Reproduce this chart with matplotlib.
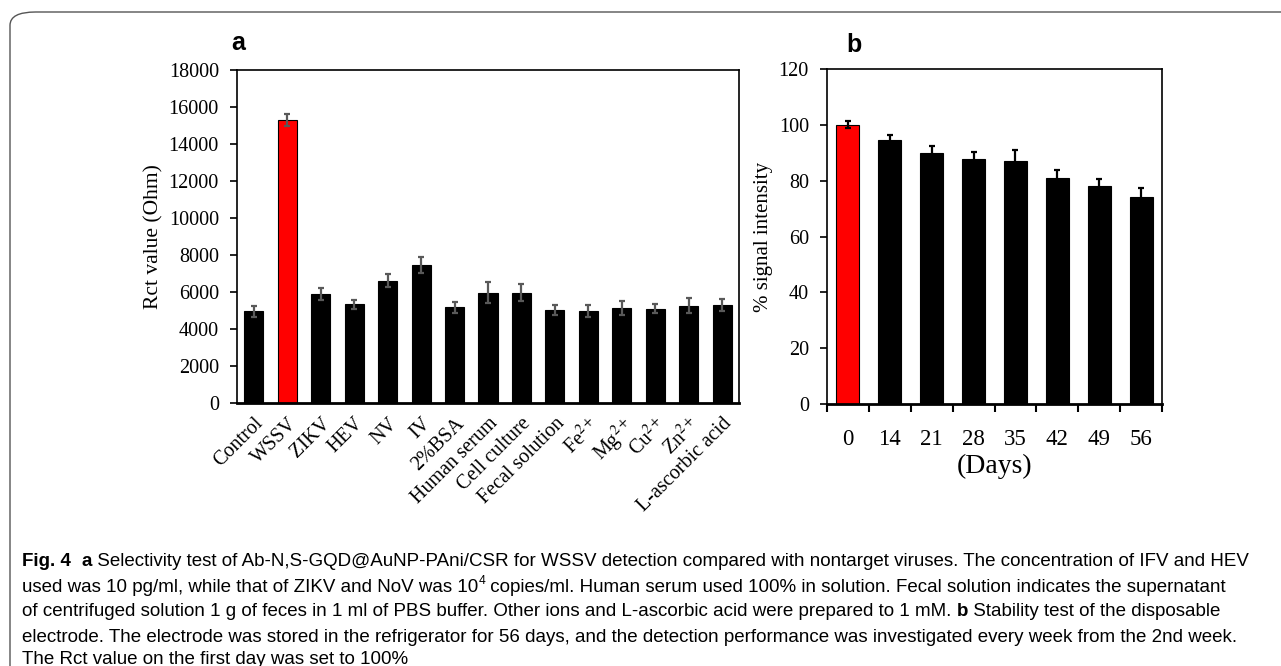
import numpy as np
import matplotlib
matplotlib.use('Agg')
import matplotlib.pyplot as plt
from matplotlib import font_manager as fm
from matplotlib.patches import FancyBboxPatch

# fonts
plt.rcParams['font.family'] = ['Liberation Serif', 'DejaVu Serif']
plt.rcParams['mathtext.fontset'] = 'stix'
names = {f.name for f in fm.fontManager.ttflist}
cap_font = 'Liberation Sans Narrow' if 'Liberation Sans Narrow' in names else 'Liberation Sans'

# panel a data
sel_labels = ['Control', 'WSSV', 'ZIKV', 'HEV', 'NV', 'IV', '2%BSA', 'Human serum',
              'Cell culture', 'Fecal solution', 'Fe$^{2+}$', 'Mg$^{2+}$', 'Cu$^{2+}$',
              'Zn$^{2+}$', 'L-ascorbic acid']
sel_values = [4950, 15300, 5880, 5330, 6600, 7450, 5180, 5970, 5970, 5030, 4970, 5120, 5100, 5250, 5320]
sel_errors = [280, 320, 320, 230, 350, 430, 300, 580, 450, 250, 330, 370, 230, 400, 320]

# panel b data
days = ['0', '14', '21', '28', '35', '42', '49', '56']
signal = [100, 94.5, 89.8, 87.8, 87.0, 80.8, 78.0, 74.2]
signal_err = [1.3, 2.0, 2.5, 2.5, 4.0, 3.0, 2.5, 3.0]

W, H = 1281, 666
fig = plt.figure(figsize=(W / 100, H / 100), dpi=100)

# rounded frame around figure + caption
frame = FancyBboxPatch((10 / W, -0.05), 1.2, (666 - 12) / H + 0.05,
                       boxstyle='round,pad=0,rounding_size=0.02',
                       transform=fig.transFigure, fill=False, edgecolor='#555555', lw=1.0)
fig.patches.append(frame)

def px_axes(l, t, r, b):
    return fig.add_axes([l / W, (H - b) / H, (r - l) / W, (b - t) / H])

# ---- panel a ----
axa = px_axes(237, 70, 739, 403)
x = np.arange(len(sel_values))
colors_a = ['black'] * len(sel_values)
colors_a[1] = 'red'
axa.bar(x, sel_values, width=0.57, color=colors_a, edgecolor='black', linewidth=0.8)
axa.errorbar(x, sel_values, yerr=sel_errors, fmt='none', ecolor='#595959',
             elinewidth=1.6, capsize=2.5, capthick=1.6)
axa.set_xlim(-0.5, len(sel_values) - 0.5)
axa.set_ylim(0, 18000)
axa.set_yticks(np.arange(0, 18001, 2000))
axa.set_xticks(x)
axa.set_xticklabels(sel_labels, rotation=45, ha='right', rotation_mode='anchor')
axa.tick_params(axis='x', length=0, labelsize=14.5, pad=8)
axa.tick_params(axis='y', direction='out', length=5, width=1.2, labelsize=14.5, pad=8)
axa.set_ylabel('Rct value (Ohm)', fontsize=15.5, labelpad=4)
for s in axa.spines.values():
    s.set_linewidth(1.2)
axa.spines['bottom'].set_linewidth(2)
fig.text(238 / W, 1 - 43 / H, 'a', fontsize=18, fontweight='bold',
         family='Liberation Sans', va='center', ha='center')

# ---- panel b ----
axb = px_axes(827, 69, 1162, 404)
xb = np.arange(len(signal))
colors_b = ['black'] * len(signal)
colors_b[0] = 'red'
axb.bar(xb, signal, width=0.55, color=colors_b, edgecolor='black', linewidth=0.8)
axb.errorbar(xb, signal, yerr=signal_err, fmt='none', ecolor='black',
             elinewidth=1.6, capsize=2.5, capthick=1.6)
axb.set_xlim(-0.5, len(signal) - 0.5)
axb.set_ylim(0, 120)
axb.set_yticks(np.arange(0, 121, 20))
axb.set_xticks(xb)
axb.set_xticklabels(days)
axb.set_xticks(np.arange(-0.5, len(signal)), minor=True)
axb.tick_params(axis='x', which='major', length=0, labelsize=16.5, pad=18)
axb.tick_params(axis='x', which='minor', direction='out', length=6, width=1.5)
axb.tick_params(axis='y', direction='out', length=5, width=1.2, labelsize=14.5, pad=8)
axb.set_ylabel('% signal intensity', fontsize=15, labelpad=4)
axb.set_xlabel('(Days)', fontsize=20, labelpad=3)
for s in axb.spines.values():
    s.set_linewidth(1.2)
axb.spines['bottom'].set_linewidth(2)
fig.text(854 / W, 1 - 45 / H, 'b', fontsize=18, fontweight='bold',
         family='Liberation Sans', va='center', ha='center')

# ---- caption ----
caption = [
    [('Fig. 4', 'bold', 0), ('  ', 'normal', 0), ('a', 'bold', 0),
     (' Selectivity test of Ab-N,S-GQD@AuNP-PAni/CSR for WSSV detection compared with nontarget viruses. '
      'The concentration of IFV and HEV', 'normal', 0)],
    [('used was 10 pg/ml, while that of ZIKV and NoV was 10', 'normal', 0), ('4', 'normal', 1),
     (' copies/ml. Human serum used 100% in solution. Fecal solution indicates the supernatant', 'normal', 0)],
    [('of centrifuged solution 1 g of feces in 1 ml of PBS buffer. Other ions and L-ascorbic acid were '
      'prepared to 1 mM. ', 'normal', 0), ('b', 'bold', 0),
     (' Stability test of the disposable', 'normal', 0)],
    [('electrode. The electrode was stored in the refrigerator for 56 days, and the detection performance '
      'was investigated every week from the 2nd week.', 'normal', 0)],
    [('The Rct value on the first day was set to 100%', 'normal', 0)],
]
line_y = [562, 587, 612, 637, 660]
cap_size = 13.5
renderer = fig.canvas.get_renderer()
for segs, yy in zip(caption, line_y):
    xpos = 22
    for txt, wt, sup in segs:
        size = cap_size * (0.65 if sup else 1.0)
        ypix = yy - (6 if sup else 0)
        t = fig.text(xpos / W, 1 - ypix / H, txt, fontsize=size, fontweight=wt,
                     family=cap_font, va='center', ha='left')
        bb = t.get_window_extent(renderer=renderer)
        xpos += bb.width

fig.savefig('out.png', dpi=100)
